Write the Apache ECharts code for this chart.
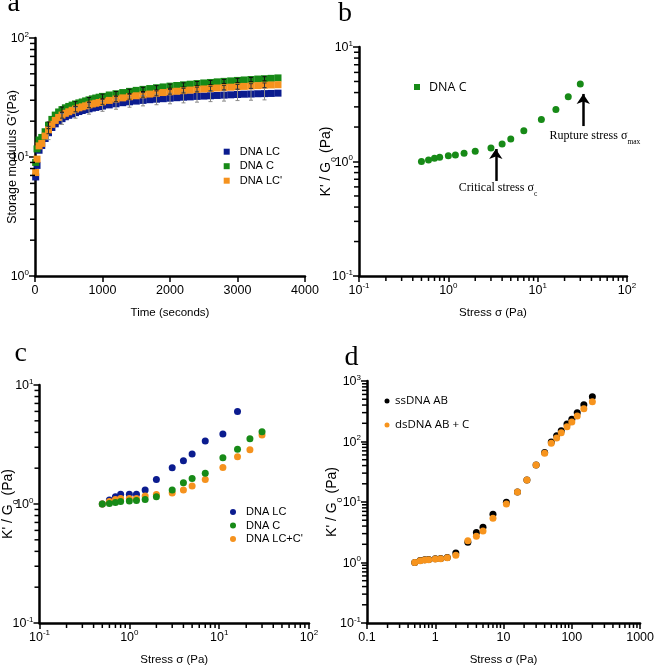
<!DOCTYPE html>
<html><head><meta charset="utf-8">
<script src="https://cdn.jsdelivr.net/npm/echarts@6/dist/echarts.min.js"></script>
<style>html,body{margin:0;padding:0;background:#fff}#c{width:657px;height:667px}</style>
</head><body><div id="c"></div><script>
// ---------------- data ----------------
// panel a : storage modulus vs time
const aTimes = [10,30,60,100,150,200,250,300,350,400,450,500,550,600,650,700,750,800,850,900,950,1000,1100,1200,1300,1400,1500,1600,1700,1800,1900,2000,2100,2200,2300,2400,2500,2600,2700,2800,2900,3000,3100,3200,3300,3400,3500,3600];
const aLC  = [6.8,8.5,11.4,12.5,14.3,16.0,17.7,19.0,20.1,21.0,21.8,22.4,23.0,23.6,24.1,24.6,25.0,25.4,25.8,26.1,26.5,26.8,27.4,28.0,28.6,29.1,29.5,29.9,30.3,30.6,30.9,31.2,31.5,31.8,32.0,32.3,32.5,32.7,32.9,33.1,33.3,33.5,33.7,33.8,34.0,34.1,34.2,34.4];
const aC   = [9.0,11.7,13.9,14.6,16.3,18.5,20.7,22.5,23.9,25.0,25.9,26.6,27.3,27.9,28.5,29.0,29.6,30.2,30.8,31.3,31.8,32.3,33.2,34.0,34.8,35.6,36.3,37.0,37.6,38.2,38.8,39.4,39.9,40.4,40.9,41.4,41.9,42.3,42.8,43.2,43.6,44.0,44.4,44.8,45.2,45.5,45.8,46.2];
const aLCp = [7.4,9.6,12.4,13.0,15.0,16.9,18.8,20.3,21.5,22.5,23.3,24.0,24.7,25.3,25.9,26.4,26.9,27.4,27.9,28.3,28.7,29.1,29.9,30.7,31.4,32.1,32.7,33.3,33.8,34.3,34.8,35.3,35.7,36.1,36.5,36.9,37.3,37.6,38.0,38.3,38.6,38.9,39.2,39.5,39.8,40.1,40.3,40.5];
const aErrTimes = [200,400,600,800,1000,1200,1400,1600,1800,2000,2200,2400,2600,2800,3000,3200,3400];
const aErrLC  = [2.0,2.2,2.4,2.5,2.6,2.8,2.9,3.0,3.1,3.2,3.3,3.4,3.5,3.6,3.7,3.8,3.9];
const aErrC   = [1.2,1.3,1.3,1.4,1.4,1.5,1.5,1.5,1.6,1.6,1.6,1.7,1.7,1.7,1.8,1.8,1.8];
const aErrLCp = [1.2,1.3,1.3,1.4,1.4,1.5,1.5,1.5,1.6,1.6,1.6,1.7,1.7,1.7,1.8,1.8,1.8];
// panel b : DNA C
const bStress = [0.5,0.6,0.7,0.8,1,1.2,1.5,2,3,4,5,7,11,16,22,30];
const bC      = [1.0,1.03,1.07,1.09,1.12,1.14,1.18,1.23,1.31,1.42,1.57,1.86,2.33,2.85,3.68,4.74];
// panel c
const cStress = [0.5,0.6,0.7,0.8,1,1.2,1.5,2,3,4,5,7,11,16,22,30];
const cLC  = [1.0,1.08,1.15,1.21,1.21,1.21,1.31,1.61,2.02,2.31,2.63,3.38,3.87,6.0];
const cC   = [1.0,1.01,1.03,1.05,1.06,1.07,1.09,1.15,1.31,1.51,1.64,1.81,2.45,2.88,3.54,4.05];
const cLCC = [1.0,1.05,1.09,1.11,1.11,1.11,1.17,1.20,1.24,1.31,1.42,1.61,2.03,2.50,2.86,3.80];
// panel d
const dStress = [0.5,0.6,0.7,0.8,1,1.2,1.5,2,3,4,5,7,11,16,22,30,40,50,60,70,85,100,120,150,200];
const dSs = [1.0,1.08,1.11,1.12,1.15,1.16,1.21,1.43,2.17,3.13,3.84,6.3,9.9,14.6,23.2,41,66,98,124,150,195,233,299,405,550];
const dDs = [1.0,1.07,1.10,1.11,1.14,1.15,1.20,1.32,2.28,2.72,3.33,5.4,9.3,14.6,23.2,41,64,94,114,140,176,210,264,348,455];
// annotations (panel b)
const critArrow = [[3.4,0.676],[3.4,1.285]];
const ruptArrow = [[32.4,2.04],[32.4,3.89]];
const critText = [3.6,0.564];
const ruptText = [43.8,1.6];

// ---------------- styles ----------------
const SANS = "'Liberation Sans', Arial, sans-serif";
const MYR = "'Open Sans', 'Noto Sans', sans-serif";
const SERIF = "'Liberation Serif', 'Times New Roman', serif";
const BLUE = '#0b1c8f', GREEN = '#178a17', ORANGE = '#f5921e', BLACK = '#000';
const SQ = 'path://M0,0L10,0L10,10L0,10Z';
const CIRC = 'path://M10,5A5,5,0,1,1,0,5A5,5,0,1,1,10,5Z';

const zip = (xs, ys) => ys.map((y, i) => [xs[i], y]);
function powLabel(v){ const e = Math.round(Math.log10(v)); return '{b|10}{s|' + e + '}'; }
const powRich = {
  b:{fontFamily:SANS,fontSize:12.5,color:'#000',lineHeight:15,verticalAlign:'bottom'},
  s:{fontFamily:SANS,fontSize:8,color:'#000',lineHeight:15,verticalAlign:'top'}
};
const kRich = {
  t:{fontFamily:SANS,fontSize:14,color:'#000',lineHeight:19,verticalAlign:'top'},
  u:{fontFamily:SANS,fontSize:9,color:'#000',lineHeight:19,verticalAlign:'bottom'}
};
const K_NAME = "{t|K' / G}{u|o}{t| (Pa)}";
const axLine = {show:true,onZero:false,lineStyle:{color:'#000',width:2.5}};
const axTick = {show:true,length:6,lineStyle:{color:'#000',width:1.5}};

function logAxis(gi, min, max, extra){
  return Object.assign({type:'log',logBase:10,gridIndex:gi,min:min,max:max,nameMoveOverlap:false,
    axisLine:axLine,axisTick:axTick,splitLine:{show:false},
    axisLabel:{formatter:powLabel,rich:powRich,color:'#000'}}, extra||{});
}
function decadesMinor(lo, hi){ // minor tick values between decades
  const out = [];
  for (let k = lo; k < hi; k++) for (let m = 2; m <= 9; m++) out.push(+(m*Math.pow(10,k)).toPrecision(3));
  return out;
}
function minorSeries(gi, dim, values, anchor){
  return {type:'custom', xAxisIndex:gi, yAxisIndex:gi, silent:true, z:6, clip:false,
    data: values.map(v => dim === 'y' ? [anchor, v] : [v, anchor]),
    encode:{x:0,y:1},
    renderItem: function(params, api){
      const p = api.coord([api.value(0), api.value(1)]);
      const sh = dim === 'y' ? {x1:p[0]-5,y1:p[1],x2:p[0],y2:p[1]} : {x1:p[0],y1:p[1],x2:p[0],y2:p[1]+5};
      return {type:'line', shape:sh, style:{stroke:'#000', lineWidth:1.5}};
    }};
}
function errSeries(gi, name, times, xs, ys, errs, color){
  const data = times.map((t,i) => { const m = ys[xs.indexOf(t)]; return [t, m-errs[i], m+errs[i]]; });
  return {type:'custom', name:name+' err', xAxisIndex:gi, yAxisIndex:gi, silent:true, z:4,
    data:data, encode:{x:0,y:[1,2]},
    renderItem: function(params, api){
      const x = api.value(0);
      const lo = api.coord([x, api.value(1)]), hi = api.coord([x, api.value(2)]);
      const st = {stroke:color, lineWidth:1};
      return {type:'group', children:[
        {type:'line',shape:{x1:lo[0],y1:lo[1],x2:hi[0],y2:hi[1]},style:st},
        {type:'line',shape:{x1:lo[0]-2,y1:lo[1],x2:lo[0]+2,y2:lo[1]},style:st},
        {type:'line',shape:{x1:hi[0]-2,y1:hi[1],x2:hi[0]+2,y2:hi[1]},style:st}]};
    }};
}
function scat(gi, name, data, color, symbol, size){
  return {type:'scatter', name:name, xAxisIndex:gi, yAxisIndex:gi, data:data, symbol:symbol, symbolSize:size,
    itemStyle:{color:color, opacity:1}, emphasis:{disabled:true}, silent:true};
}
const titleStyle = {fontFamily:SERIF,fontSize:28,fontWeight:'normal',color:'#000',lineHeight:28};
const xNameStyle = {fontFamily:SANS,fontSize:11.5,color:'#000'};

const option = {
  animation:false,
  backgroundColor:'#fff',
  title:[
    {text:'a',left:7.5,top:-10.4,padding:0,textStyle:titleStyle},
    {text:'b',left:338,top:-0.4,padding:0,textStyle:titleStyle},
    {text:'c',left:14.5,top:339.6,padding:0,textStyle:titleStyle},
    {text:'d',left:344.5,top:343.6,padding:0,textStyle:titleStyle}
  ],
  grid:[
    {left:35,top:38,width:270,height:238},
    {left:359,top:47,width:268,height:229},
    {left:39,top:385,width:270,height:238},
    {left:367,top:381,width:278,height:242}
  ],
  xAxis:[
    {type:'value',gridIndex:0,min:0,max:4000,interval:1000,nameMoveOverlap:false,axisLine:axLine,axisTick:axTick,splitLine:{show:false},
      axisLabel:{fontFamily:SANS,fontSize:12.5,color:'#000',margin:8,formatter:v => String(Math.round(v))},
      name:'Time (seconds)',nameLocation:'middle',nameGap:31,nameTextStyle:xNameStyle},
    logAxis(1,0.1,100,{name:'Stress σ (Pa)',nameLocation:'middle',nameGap:31,nameTextStyle:xNameStyle,
      axisLabel:{formatter:powLabel,rich:powRich,margin:6}}),
    logAxis(2,0.1,100,{name:'Stress σ (Pa)',nameLocation:'middle',nameGap:31,nameTextStyle:xNameStyle,
      axisLabel:{formatter:powLabel,rich:powRich,margin:6}}),
    logAxis(3,0.1,1000,{name:'Stress σ (Pa)',nameLocation:'middle',nameGap:31,nameTextStyle:xNameStyle,
      axisLabel:{fontFamily:SANS,fontSize:12.5,color:'#000',margin:8,formatter:v => String(+(+v).toPrecision(3))}})
  ],
  yAxis:[
    logAxis(0,1,100,{name:"Storage modulus G'(Pa)",nameLocation:'middle',nameGap:16,
      nameTextStyle:{fontFamily:SANS,fontSize:12.5,color:'#000'},axisLabel:{formatter:powLabel,rich:powRich,margin:6}}),
    logAxis(1,0.1,10,{name:K_NAME,nameLocation:'middle',nameGap:21,nameTextStyle:{rich:kRich},
      axisLabel:{formatter:powLabel,rich:powRich,margin:6}}),
    logAxis(2,0.1,10,{name:K_NAME,nameLocation:'middle',nameGap:19.5,nameTextStyle:{rich:kRich},
      axisLabel:{formatter:powLabel,rich:powRich,margin:6}}),
    logAxis(3,0.1,1000,{name:K_NAME,nameLocation:'middle',nameGap:23,nameTextStyle:{rich:kRich},
      axisLabel:{formatter:powLabel,rich:powRich,margin:6}})
  ],
  legend:[
    {data:['DNA LC','DNA C',"DNA LC'"],left:223.7,top:145.7,orient:'vertical',padding:0,itemWidth:16,itemHeight:6,itemGap:2.5,
      icon:SQ,selectedMode:false,textStyle:{fontFamily:SANS,fontSize:11,lineHeight:12,color:'#000'}},
    {data:['DNA C'],left:414,top:80,orient:'vertical',padding:0,itemWidth:14,itemHeight:6,
      icon:SQ,selectedMode:false,textStyle:{fontFamily:MYR,fontSize:12.5,lineHeight:14,color:'#000'}},
    {data:['DNA LC','DNA C',"DNA LC+C'"],left:230,top:505.5,orient:'vertical',padding:0,itemWidth:16,itemHeight:6,itemGap:0.5,
      icon:CIRC,selectedMode:false,textStyle:{fontFamily:SANS,fontSize:11,lineHeight:13,color:'#000'}},
    {data:['ssDNA AB','dsDNA AB + C'],left:384.5,top:394,orient:'vertical',padding:0,itemWidth:6,itemHeight:5,itemGap:10,
      icon:CIRC,selectedMode:false,textStyle:{fontFamily:MYR,fontSize:11.5,lineHeight:14,color:'#000'}}
  ],
  series:[
    // panel a
    scat(0,'DNA LC',zip(aTimes,aLC),BLUE,'rect',7),
    scat(0,'DNA C',zip(aTimes,aC),GREEN,'rect',7),
    scat(0,"DNA LC'",zip(aTimes,aLCp),ORANGE,'rect',7),
    errSeries(0,'DNA LC',aErrTimes,aTimes,aLC,aErrLC,'#8a8a8a'),
    errSeries(0,'DNA C',aErrTimes,aTimes,aC,aErrC,'#111'),
    errSeries(0,"DNA LC'",aErrTimes,aTimes,aLCp,aErrLCp,'#333'),
    minorSeries(0,'y',decadesMinor(0,2),0),
    // panel b
    Object.assign(scat(1,'DNA C',zip(bStress,bC),GREEN,'circle',7),{
      markLine:{silent:true,symbol:['none','arrow'],symbolSize:10,lineStyle:{color:'#000',width:2.5,type:'solid'},
        label:{show:false},emphasis:{disabled:true},
        data:[[{coord:critArrow[0]},{coord:critArrow[1]}],[{coord:ruptArrow[0]},{coord:ruptArrow[1]}]]},
      markPoint:{silent:true,symbol:'circle',symbolSize:0,
        label:{show:true,position:'inside',color:'#000',
          rich:{t:{fontFamily:SERIF,fontSize:12,color:'#000',lineHeight:16,verticalAlign:'top'},
                u:{fontFamily:SERIF,fontSize:7.5,color:'#000',lineHeight:16,verticalAlign:'bottom'}}},
        data:[{coord:critText,label:{formatter:'{t|Critical stress σ}{u|c}'}},
              {coord:ruptText,label:{formatter:'{t|Rupture stress σ}{u|max}'}}]}
    }),
    minorSeries(1,'y',decadesMinor(-1,1),0.1),
    minorSeries(1,'x',decadesMinor(-1,2),0.1),
    // panel c
    scat(2,'DNA LC',zip(cStress,cLC),BLUE,'circle',7),
    scat(2,"DNA LC+C'",zip(cStress,cLCC),ORANGE,'circle',7),
    scat(2,'DNA C',zip(cStress,cC),GREEN,'circle',7),
    minorSeries(2,'y',decadesMinor(-1,1),0.1),
    minorSeries(2,'x',decadesMinor(-1,2),0.1),
    // panel d
    scat(3,'ssDNA AB',zip(dStress,dSs),BLACK,'circle',7),
    scat(3,'dsDNA AB + C',zip(dStress,dDs),'#f7941d','circle',7),
    minorSeries(3,'y',decadesMinor(-1,3),0.1),
    minorSeries(3,'x',decadesMinor(-1,3),0.1)
  ]
};
const chart = echarts.init(document.getElementById('c'), null, {renderer:'canvas'});
chart.setOption(option);
</script></body></html>
